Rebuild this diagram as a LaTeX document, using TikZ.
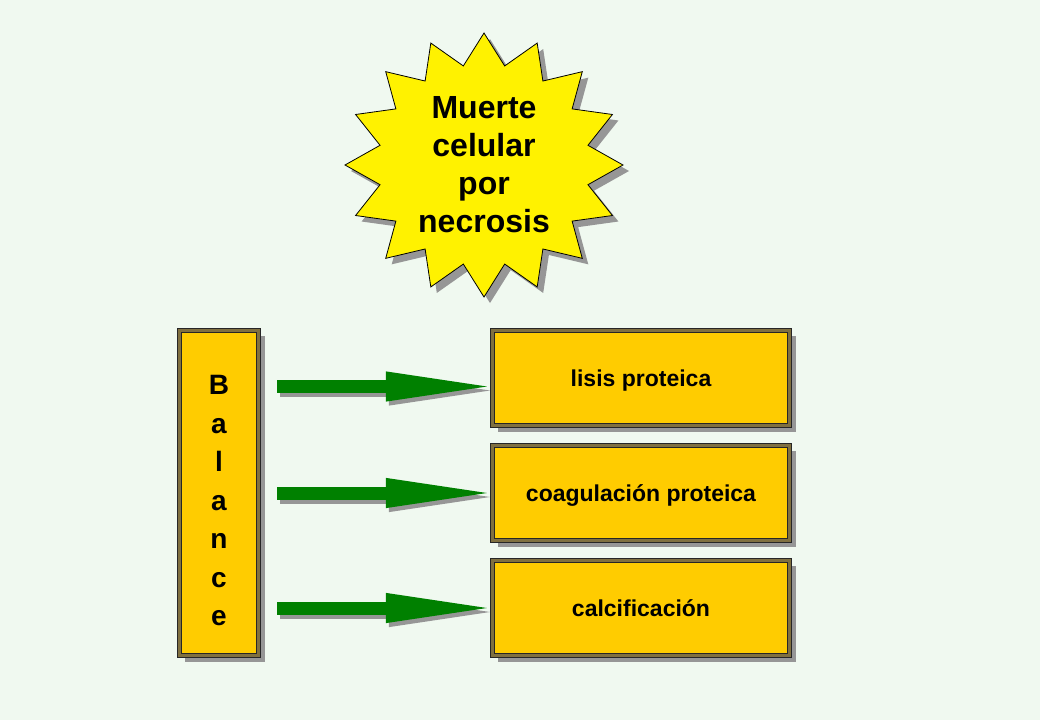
\documentclass[tikz,border=0pt]{standalone}
\usepackage{fontspec}
\setmainfont{Liberation Sans}
\usetikzlibrary{positioning,calc,shadows,arrows.meta}
\definecolor{slidebg}{RGB}{240,249,240}
\definecolor{boxfill}{RGB}{255,204,0}
\definecolor{boxrim}{RGB}{128,112,64}
\definecolor{arrowgreen}{RGB}{0,128,0}
\definecolor{shadowgray}{RGB}{150,150,150}

\begin{document}
\begin{tikzpicture}[x=1pt,y=-1pt,
    box/.style={draw=black!85,line width=1.1pt,double=boxrim,double distance=2.6pt,fill=boxfill,
        outer sep=0pt,inner sep=0pt,align=center,text height=20pt,text depth=3pt,
        font=\bfseries\fontsize{23}{27}\selectfont,
        drop shadow={shadow xshift=6pt,shadow yshift=-6pt,fill=shadowgray,opacity=1}},
    fatarrow/.style={line width=13pt,-{Triangle[length=115pt,width=26pt]}}]
  \fill[slidebg] (0,0) rectangle (1040,720);
  \useasboundingbox (0,0) rectangle (1040,720);

  % starburst
  \coordinate (burstc) at (484,165);
  \filldraw[fill=yellow,draw=black,line width=0.8pt,shift={(burstc)},
      drop shadow={shadow xshift=6pt,shadow yshift=-6pt,fill=shadowgray,opacity=1}]
    plot[samples at={0,...,31}] ({(mod(\x,2)==0 ? 139 : 106)*cos(90+11.25*\x)},{(mod(\x,2)==0 ? 132 : 101)*sin(90+11.25*\x)}) -- cycle;
  \node[font=\bfseries\fontsize{32}{38}\selectfont,align=center] (burst) at (burstc) {Muerte\\celular\\por\\necrosis};

  % left box
  \node[box,minimum width=79.2pt,minimum height=325.2pt] (balance) at (219,493) {};
  \node[font=\bfseries\fontsize{28}{38.5}\selectfont,align=center] (word) at ([yshift=-7.5pt]balance.center) {B\\a\\l\\a\\n\\c\\e};

  % right boxes
  \node[box,minimum width=297.2pt,minimum height=95.2pt] (lisis) at (641,378) {lisis proteica};
  \node[box,minimum width=297.2pt,minimum height=95.2pt,below=19.8pt of lisis] (coag) {coagulación proteica};
  \node[box,minimum width=297.2pt,minimum height=95.2pt,below=19.8pt of coag] (calc) {calcificación};

  % arrows
  \foreach \b/\dy in {lisis/8.5,coag/0,calc/0}{
    \draw[fatarrow,draw=shadowgray,transform canvas={shift={(3pt,-4pt)}}] ($(balance.east |- \b.west)+(18.4,\dy)$) -- ($(\b.west)+(8.5,\dy)$);
    \draw[fatarrow,draw=arrowgreen] ($(balance.east |- \b.west)+(18.4,\dy)$) -- ($(\b.west)+(8.5,\dy)$);
  }
\end{tikzpicture}
\end{document}
